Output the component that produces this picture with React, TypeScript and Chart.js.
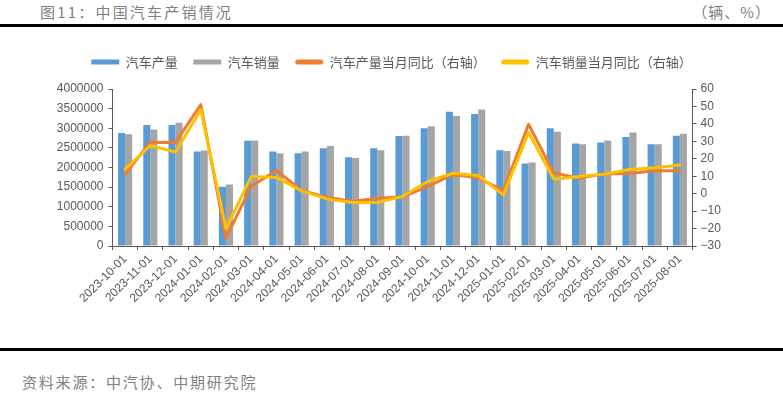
import React, { useEffect, useRef } from "react";
import { Chart, registerables } from "chart.js";

Chart.register(...registerables);

const categories = [
  "2023-10-01", "2023-11-01", "2023-12-01", "2024-01-01", "2024-02-01", "2024-03-01",
  "2024-04-01", "2024-05-01", "2024-06-01", "2024-07-01", "2024-08-01", "2024-09-01",
  "2024-10-01", "2024-11-01", "2024-12-01", "2025-01-01", "2025-02-01", "2025-03-01",
  "2025-04-01", "2025-05-01", "2025-06-01", "2025-07-01", "2025-08-01",
];

const production = [
  2880000, 3080000, 3080000, 2410000, 1510000, 2680000,
  2410000, 2360000, 2490000, 2260000, 2490000, 2800000,
  3000000, 3420000, 3360000, 2440000, 2100000, 3000000,
  2610000, 2640000, 2780000, 2590000, 2810000,
];

const sales = [
  2850000, 2970000, 3140000, 2430000, 1570000, 2690000,
  2360000, 2410000, 2550000, 2240000, 2440000, 2810000,
  3050000, 3310000, 3480000, 2420000, 2130000, 2910000,
  2590000, 2690000, 2890000, 2590000, 2860000,
];

const productionYoY = [
  11.3, 29.5, 29.4, 51.0, -25.5, 4.2,
  13.3, 1.9, -2.1, -4.5, -2.6, -1.9,
  4.0, 11.0, 9.1, 1.8, 39.8, 11.8,
  8.9, 11.4, 11.5, 13.2, 13.1,
];

const salesYoY = [
  13.9, 27.6, 23.8, 48.1, -20.0, 9.8,
  9.3, 1.6, -3.0, -5.1, -5.0, -1.6,
  7.0, 11.7, 10.4, -0.7, 35.0, 8.3,
  9.8, 11.2, 13.9, 14.9, 16.4,
];

const seriesNames = ["汽车产量", "汽车销量", "汽车产量当月同比（右轴）", "汽车销量当月同比（右轴）"];
const leftTicks = { min: 0, max: 4000000, step: 500000 };
const rightTicks = { min: -30, max: 60, step: 10 };

const CJK = "'Noto Sans CJK SC', 'Noto Sans', sans-serif";
const LATIN = "'Liberation Sans', Arial, sans-serif";
const TICK = "#595959";
const AXIS = "#595959";

export default function App() {
  const ref = useRef<HTMLCanvasElement>(null);

  useEffect(() => {
    const canvas = ref.current;
    if (!canvas) return;
    const legendFix = {
      id: "legendFix",
      beforeInit(chart: any) {
        const legend = chart.legend;
        if (!legend) return;
        const orig = legend.fit;
        legend.fit = function () {
          orig.call(this);
          this.height = 49;
        };
      },
    };
    const chart = new Chart(canvas, {
      type: "bar",
      data: {
        labels: categories,
        datasets: [
          {
            type: "bar",
            label: seriesNames[0],
            data: production,
            backgroundColor: "#5B9BD5",
            yAxisID: "y",
            order: 2,
            categoryPercentage: 0.56,
            barPercentage: 1,
          },
          {
            type: "bar",
            label: seriesNames[1],
            data: sales,
            backgroundColor: "#A5A5A5",
            yAxisID: "y",
            order: 3,
            categoryPercentage: 0.56,
            barPercentage: 1,
          },
          {
            type: "line",
            label: seriesNames[2],
            data: productionYoY,
            borderColor: "#ED7D31",
            backgroundColor: "#ED7D31",
            borderWidth: 3,
            pointRadius: 0,
            tension: 0,
            borderJoinStyle: "round",
            borderCapStyle: "round",
            yAxisID: "y1",
            order: 1,
          },
          {
            type: "line",
            label: seriesNames[3],
            data: salesYoY,
            borderColor: "#FFC000",
            backgroundColor: "#FFC000",
            borderWidth: 3,
            pointRadius: 0,
            tension: 0,
            borderJoinStyle: "round",
            borderCapStyle: "round",
            yAxisID: "y1",
            order: 0,
          },
        ] as any,
      },
      options: {
        responsive: false,
        animation: false,
        devicePixelRatio: 1,
        layout: { padding: 0 },
        plugins: {
          legend: {
            position: "top",
            labels: {
              boxWidth: 28,
              boxHeight: 5,
              padding: 15.5,
              color: TICK,
              font: { family: CJK, size: 13 },
              sort: (a: any, b: any) => a.datasetIndex - b.datasetIndex,
              generateLabels: (c: any) =>
                (Chart.defaults.plugins.legend.labels as any).generateLabels(c).map((l: any) => ({
                  ...l,
                  lineWidth: 0,
                  fillStyle: l.strokeStyle && l.datasetIndex >= 2 ? l.strokeStyle : l.fillStyle,
                  borderRadius: l.datasetIndex >= 2 ? 2.5 : 0,
                })),
            },
          },
          tooltip: { enabled: false },
        },
        scales: {
          x: {
            type: "category",
            offset: true,
            grid: {
              display: true,
              offset: true,
              drawOnChartArea: false,
              drawTicks: true,
              tickLength: 4,
              color: AXIS,
            },
            border: { display: true, color: AXIS, width: 1 },
            ticks: {
              autoSkip: false,
              maxRotation: 45,
              minRotation: 45,
              padding: 2,
              color: TICK,
              font: { family: LATIN, size: 12 },
            },
            afterFit: (s: any) => {
              s.height = 84;
            },
          },
          y: {
            position: "left",
            min: leftTicks.min,
            max: leftTicks.max,
            grid: { display: true, drawOnChartArea: false, drawTicks: true, tickLength: 4, color: AXIS },
            border: { display: true, color: AXIS, width: 1 },
            ticks: {
              stepSize: leftTicks.step,
              padding: 5,
              color: TICK,
              font: { family: LATIN, size: 12 },
              callback: (v: any) => String(v),
            },
            afterFit: (s: any) => {
              s.width = 112.5;
            },
          },
          y1: {
            position: "right",
            min: rightTicks.min,
            max: rightTicks.max,
            grid: { display: true, drawOnChartArea: false, drawTicks: true, tickLength: 4, color: AXIS },
            border: { display: true, color: AXIS, width: 1 },
            ticks: {
              stepSize: rightTicks.step,
              padding: 4,
              color: TICK,
              font: { family: LATIN, size: 12 },
              callback: (v: any) => (Number(v) < 0 ? "\u2212" + Math.abs(Number(v)) : String(v)),
            },
            afterFit: (s: any) => {
              s.width = 90.5;
            },
          },
        },
      } as any,
      plugins: [legendFix],
    });
    return () => chart.destroy();
  }, []);

  return (
    <div
      style={{
        position: "fixed",
        left: 0,
        top: 0,
        width: 783,
        height: 393,
        background: "#fff",
        overflow: "hidden",
      }}
    >
      <div
        style={{
          position: "absolute",
          left: 40,
          top: 4,
          fontFamily: CJK,
          fontSize: 15,
          lineHeight: "15px",
          letterSpacing: "2.2px",
          color: "#808080",
          whiteSpace: "nowrap",
        }}
      >
        图11：中国汽车产销情况
      </div>
      <div
        style={{
          position: "absolute",
          right: 12,
          top: 4,
          fontFamily: CJK,
          fontSize: 15,
          lineHeight: "15px",
          letterSpacing: "1px",
          color: "#808080",
          whiteSpace: "nowrap",
        }}
      >
        （辆、%）
      </div>
      <div style={{ position: "absolute", left: 0, top: 24, width: 783, height: 3, background: "#000" }} />
      <canvas
        ref={ref}
        width={783}
        height={290}
        style={{ position: "absolute", left: 0, top: 40, width: 783, height: 290 }}
      />
      <div style={{ position: "absolute", left: 0, top: 348, width: 783, height: 3, background: "#000" }} />
      <div
        style={{
          position: "absolute",
          left: 22,
          top: 374,
          fontFamily: CJK,
          fontSize: 15,
          lineHeight: "15px",
          letterSpacing: "1.8px",
          color: "#808080",
          whiteSpace: "nowrap",
        }}
      >
        资料来源：中汽协、中期研究院
      </div>
    </div>
  );
}
